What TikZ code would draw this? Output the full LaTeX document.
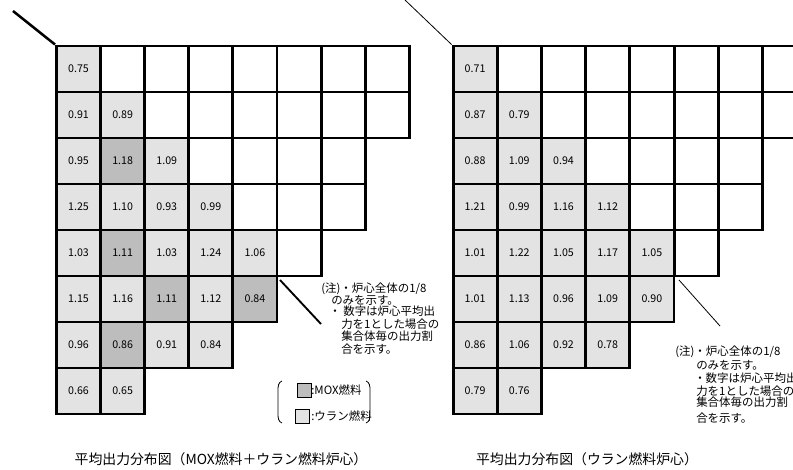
\documentclass[tikz,border=0pt]{standalone}
\usepackage{fontspec}
\setmainfont{Noto Sans CJK JP}
\definecolor{lightg}{RGB}{227,227,227}
\definecolor{darkg}{RGB}{189,189,189}
\newcommand\Lc[4]{\node[cellbox,#3] (L#1#2) at ({56.5+44.1*(#2+0.5)},{46+46*(#1+0.5)}) {#4};}
\newcommand\Rc[4]{\node[cellbox,#3] (R#1#2) at ({453+44.2*(#2+0.5)},{46+46*(#1+0.5)}) {#4};}
\begin{document}
\begin{tikzpicture}[x=0.75pt,y=-0.75pt,
  cellbox/.style={draw=black,line width=2.2pt,minimum width=33.1pt,minimum height=34.5pt,inner sep=0pt,font=\fontsize{8}{9}\selectfont},
  lt/.style={fill=lightg}, dk/.style={fill=darkg}, wh/.style={fill=white},
  note/.style={anchor=west,inner sep=0pt,font=\fontsize{8.6}{10}\selectfont},
  captxt/.style={inner sep=0pt,font=\fontsize{10.4}{12}\selectfont},
  legbox/.style={draw=black,line width=0.6pt,minimum size=10.5pt,inner sep=0pt},
]
\useasboundingbox (0,0) rectangle (793,470);
\clip (0,0) rectangle (793,470);
% ---------- left grid ----------
\Lc00{lt}{0.75} \foreach \c in {1,...,7}{\Lc0\c{wh}{}}
\Lc10{lt}{0.91} \Lc11{lt}{0.89} \foreach \c in {2,...,7}{\Lc1\c{wh}{}}
\Lc20{lt}{0.95} \Lc21{dk}{1.18} \Lc22{lt}{1.09} \foreach \c in {3,...,6}{\Lc2\c{wh}{}}
\Lc30{lt}{1.25} \Lc31{lt}{1.10} \Lc32{lt}{0.93} \Lc33{lt}{0.99} \foreach \c in {4,...,6}{\Lc3\c{wh}{}}
\Lc40{lt}{1.03} \Lc41{dk}{1.11} \Lc42{lt}{1.03} \Lc43{lt}{1.24} \Lc44{lt}{1.06} \Lc45{wh}{}
\Lc50{lt}{1.15} \Lc51{lt}{1.16} \Lc52{dk}{1.11} \Lc53{lt}{1.12} \Lc54{dk}{0.84}
\Lc60{lt}{0.96} \Lc61{dk}{0.86} \Lc62{lt}{0.91} \Lc63{lt}{0.84}
\Lc70{lt}{0.66} \Lc71{lt}{0.65}
% ---------- right grid ----------
\Rc00{lt}{0.71} \foreach \c in {1,...,7}{\Rc0\c{wh}{}}
\Rc10{lt}{0.87} \Rc11{lt}{0.79} \foreach \c in {2,...,7}{\Rc1\c{wh}{}}
\Rc20{lt}{0.88} \Rc21{lt}{1.09} \Rc22{lt}{0.94} \foreach \c in {3,...,6}{\Rc2\c{wh}{}}
\Rc30{lt}{1.21} \Rc31{lt}{0.99} \Rc32{lt}{1.16} \Rc33{lt}{1.12} \foreach \c in {4,...,6}{\Rc3\c{wh}{}}
\Rc40{lt}{1.01} \Rc41{lt}{1.22} \Rc42{lt}{1.05} \Rc43{lt}{1.17} \Rc44{lt}{1.05} \Rc45{wh}{}
\Rc50{lt}{1.01} \Rc51{lt}{1.13} \Rc52{lt}{0.96} \Rc53{lt}{1.09} \Rc54{lt}{0.90}
\Rc60{lt}{0.86} \Rc61{lt}{1.06} \Rc62{lt}{0.92} \Rc63{lt}{0.78}
\Rc70{lt}{0.79} \Rc71{lt}{0.76}
% ---------- diagonals ----------
\coordinate (ltop) at (13,11);
\draw[line width=1.9pt] (ltop) -- (L00.north west);
\coordinate (la) at (280,280); \coordinate (lb) at (321,324);
\draw[line width=1.4pt] (la) -- (lb);
\coordinate (rtop) at (405,0);
\draw[line width=0.6pt] (rtop) -- (R00.north west);
\coordinate (ra) at (679,280); \coordinate (rb) at (720,326);
\draw[line width=0.6pt] (ra) -- (rb);
% ---------- left note ----------
\node[note] (ln1) at (321,289) {(注)・炉心全体の1/8};
\node[note] (ln2) at (331,300) {のみを示す。};
\node[note] (ln3) at (329,311) {・ 数字は炉心平均出};
\node[note] (ln4) at (341,324) {力を1とした場合の};
\node[note] (ln5) at (341,336) {集合体毎の出力割};
\node[note] (ln6) at (341,349) {合を示す。};
% ---------- right note ----------
\node[note] (rn1) at (675,352) {(注)・炉心全体の1/8};
\node[note] (rn2) at (696,365) {のみを示す。};
\node[note] (rn3) at (694,378) {・数字は炉心平均出};
\node[note] (rn4) at (696,391) {力を1とした場合の};
\node[note] (rn5) at (696,402) {集合体毎の出力割};
\node[note] (rn6) at (696,418) {合を示す。};
% ---------- legend ----------
\draw[line width=0.6pt] (282,381) to[out=200,in=90] (278,390) -- (278,414) to[out=-90,in=160] (282,423);
\draw[line width=0.6pt] (366,381) to[out=-20,in=90] (370,390) -- (370,414) to[out=-90,in=20] (366,423);
\node[legbox,fill=darkg] (k1) at (304,390) {};
\node[note] (k1t) at (311,390) {:MOX燃料};
\node[legbox,fill=lightg] (k2) at (302,416) {};
\node[note] (k2t) at (311,416) {:ウラン燃料};
% ---------- captions ----------
\node[captxt] (c1) at (221,459) {平均出力分布図（MOX燃料＋ウラン燃料炉心）};
\node[captxt] (c2) at (587,459) {平均出力分布図（ウラン燃料炉心）};
\end{tikzpicture}
\end{document}
